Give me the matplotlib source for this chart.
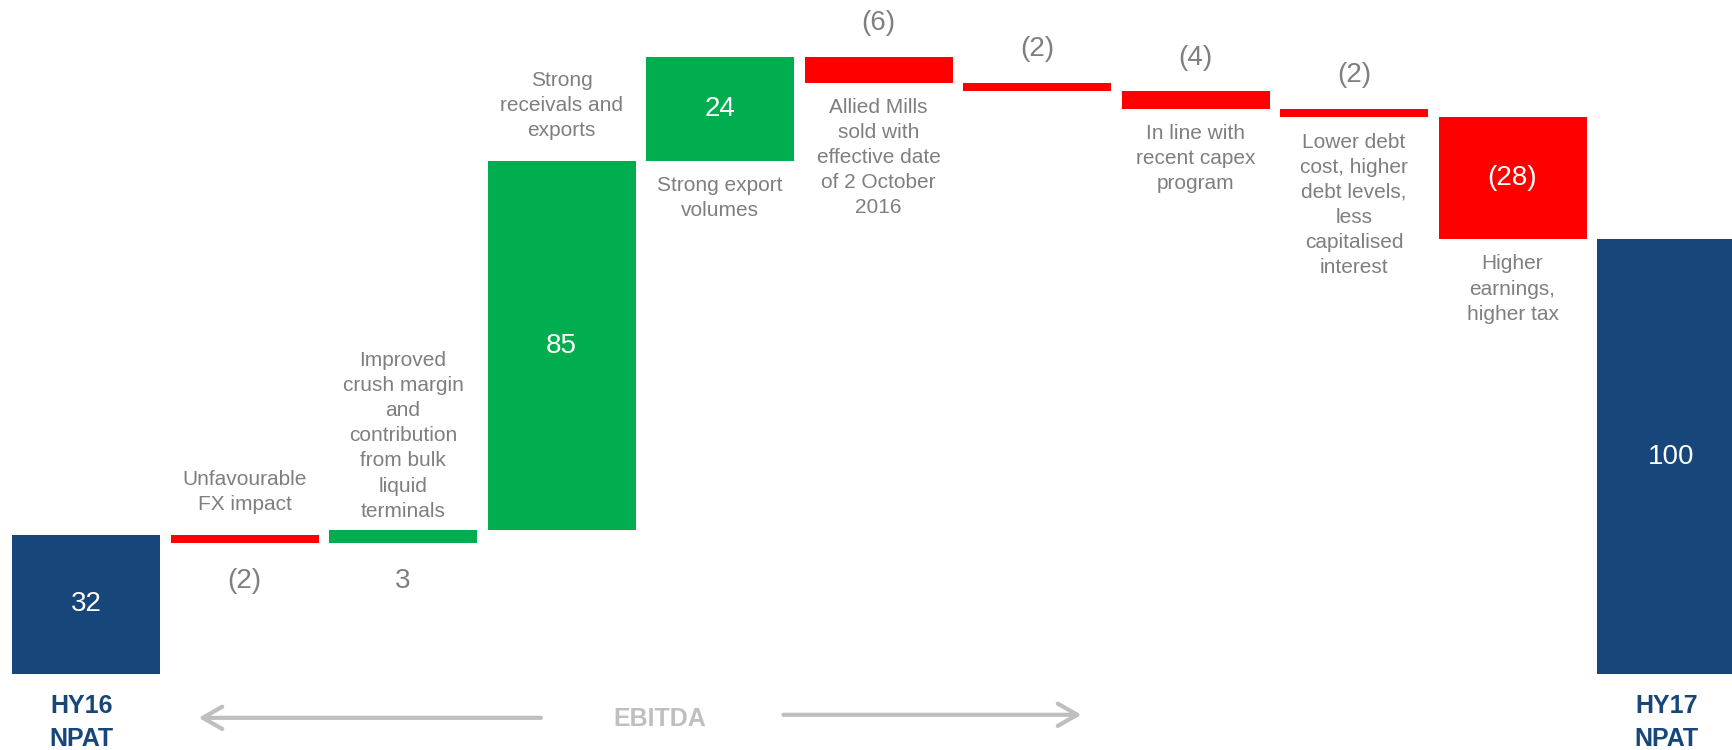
import matplotlib.pyplot as plt

plt.rcParams['font.family'] = ['Liberation Sans', 'DejaVu Sans']

# waterfall HY16 NPAT -> HY17 NPAT ($m)
values = [32, -2, 3, 85, 24, -6, -2, -4, -2, -28, 100]
is_total = [True, False, False, False, False, False, False, False, False, False, True]
value_text = ["32", "(2)", "3", "85", "24", "(6)", "(2)", "(4)", "(2)", "(28)", "100"]
value_pos = ["in", "below", "below", "in", "in", "above", "above", "above", "above", "in", "in"]
notes = [
    "",
    "Unfavourable\nFX impact",
    "Improved\ncrush margin\nand\ncontribution\nfrom bulk\nliquid\nterminals",
    "Strong\nreceivals and\nexports",
    "Strong export\nvolumes",
    "Allied Mills\nsold with\neffective date\nof 2 October\n2016",
    "",
    "In line with\nrecent capex\nprogram",
    "Lower debt\ncost, higher\ndebt levels,\nless\ncapitalised\ninterest",
    "Higher\nearnings,\nhigher tax",
    "",
]
note_pos = ["", "above", "above", "above", "below", "below", "", "below", "below", "below", ""]
end_labels = {0: "HY16\nNPAT", 10: "HY17\nNPAT"}

BLUE = "#16467A"
GREEN = "#00AE4F"
RED = "#FF0000"
GREY = "#7F7F7F"
LIGHT = "#BFBFBF"

# gap between note text and its bar (points); the crush note sits closer
note_gap = {2: 7}

fig = plt.figure(figsize=(17.33, 7.5), dpi=100)
ax = fig.add_axes([0, 0, 1, 1])
ax.set_xlim(-0.543, 10.391)
ax.set_ylim(-17.5, 155)
ax.axis('off')

running = 0
for i, v in enumerate(values):
    if is_total[i]:
        bottom, height, col = 0, v, BLUE
        running = v
    else:
        bottom = running if v > 0 else running + v
        height = abs(v)
        col = GREEN if v > 0 else RED
        running += v
    ax.bar(i, height, bottom=bottom, width=0.934, color=col)
    top = bottom + height

    pos = value_pos[i]
    if pos == "in":
        ax.text(i, bottom + height / 2, value_text[i], ha='center', va='center',
                color='white', fontsize=20)
    elif pos == "above":
        ax.annotate(value_text[i], (i, top), xytext=(0, 24), textcoords='offset points',
                    ha='center', va='center', color=GREY, fontsize=20)
    else:
        ax.annotate(value_text[i], (i, bottom), xytext=(0, -27), textcoords='offset points',
                    ha='center', va='center', color=GREY, fontsize=20)

    if note_pos[i] == "above":
        ax.annotate(notes[i], (i, top), xytext=(0, note_gap.get(i, 15)), textcoords='offset points',
                    ha='center', va='bottom', color=GREY, fontsize=15, linespacing=1.41)
    elif note_pos[i] == "below":
        ax.annotate(notes[i], (i, bottom), xytext=(0, -11), textcoords='offset points',
                    ha='center', va='top', color=GREY, fontsize=15, linespacing=1.41)

for i, lab in end_labels.items():
    ax.text(i - 0.03, -11.2, lab, ha='center', va='center', color=BLUE,
            fontsize=18, fontweight='bold', linespacing=1.45)

# EBITDA span arrows
ax.text(3.62, -10.3, "EBITDA", ha='center', va='center', color=LIGHT,
        fontsize=18, fontweight='bold')
arrow = dict(arrowstyle="->,head_length=0.7,head_width=0.4", lw=3, color=LIGHT,
             mutation_scale=20, shrinkA=0, shrinkB=0)
ax.annotate("", xy=(0.71, -10.1), xytext=(2.87, -10.1), arrowprops=arrow)
ax.annotate("", xy=(6.28, -9.4), xytext=(4.40, -9.4), arrowprops=arrow)

fig.savefig("out.png", dpi=100)
